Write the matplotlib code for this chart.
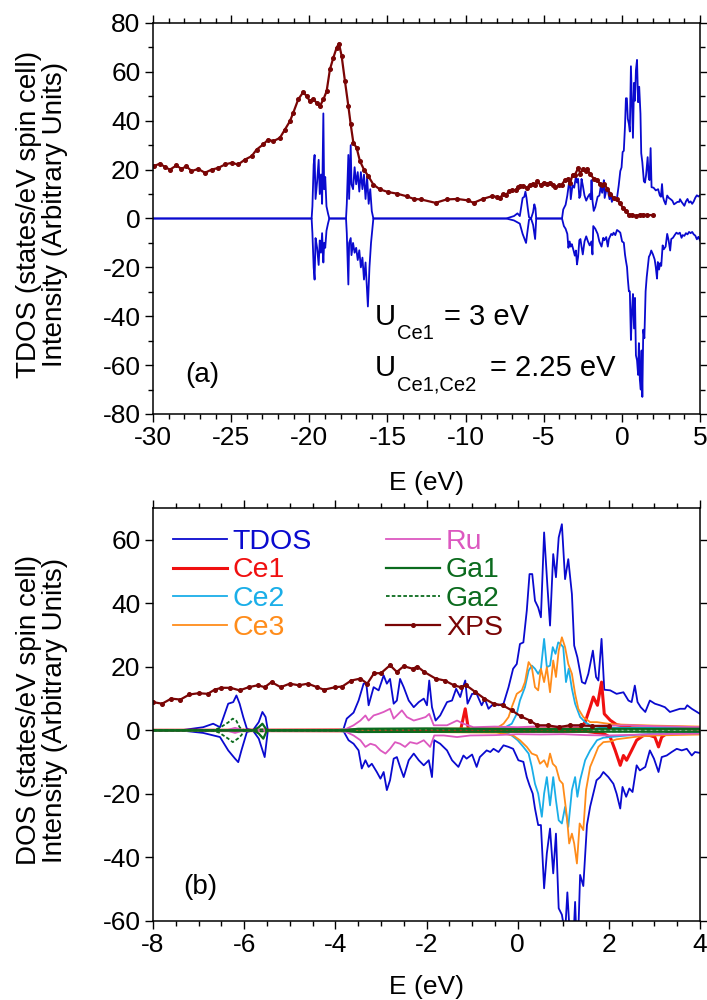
import matplotlib
matplotlib.use("Agg")
import matplotlib.pyplot as plt
from matplotlib.ticker import MultipleLocator

plt.rcParams['font.family'] = ['Liberation Sans', 'DejaVu Sans']
plt.rcParams['axes.unicode_minus'] = False

# ---------------- data ----------------
tdos_up_E = [-30.0, -19.85, -19.8, -19.72, -19.66, -19.6, -19.5, -19.4, -19.33, -19.25, -19.18, -19.1, -19.05,
             -18.98, -18.9, -18.8, -18.72, -17.65, -17.6, -17.5, -17.45, -17.35, -17.3, -17.2, -17.1, -17.0,
             -16.9, -16.8, -16.7, -16.6, -16.5, -16.4, -16.3, -16.2, -16.1, -16.0, -15.9,
             -7.4, -6.9, -6.68, -6.53, -6.35, -6.24, -6.17, -6.1, -6.02, -5.94, -5.81, -5.68, -5.6, -5.53, -5.48,
             -3.83, -3.75, -3.6, -3.49, -3.38, -3.32, -3.27, -3.16, -3.05, -2.94, -2.87, -2.8, -2.72, -2.65,
             -2.58, -2.5, -2.39, -2.28, -2.17, -2.06, -1.99, -1.94, -1.88, -1.8, -1.7, -1.55, -1.44, -1.35,
             -1.26, -1.2, -1.15, -1.1, -1.0, -0.9, -0.79, -0.72, -0.64, -0.53, -0.42, -0.31, -0.2, -0.1, -0.02,
             0.05, 0.125, 0.2, 0.26, 0.32, 0.38, 0.45, 0.51, 0.58, 0.65, 0.71, 0.78, 0.84, 0.9, 0.97, 1.04,
             1.11, 1.19, 1.24, 1.31, 1.41, 1.48, 1.55, 1.65, 1.72, 1.77, 1.84, 1.9, 2.03, 2.17, 2.32, 2.43,
             2.5, 2.57, 2.63, 2.7, 2.8, 2.9, 3.01, 3.12, 3.23, 3.34, 3.45, 3.56, 3.67, 3.72, 3.82, 3.93, 4.0,
             4.1, 4.2, 4.3, 4.4, 4.5, 4.6, 4.7, 4.8, 4.9, 5.0]
tdos_up = [0, 0, 5, 22, 26, 8, 15, 24, 10, 18, 6, 43, 12,
           17, 5, 2, 0, 0, 6, 26, 8, 30, 14, 12, 21, 14,
           19, 11, 19, 12, 18, 8, 17, 6, 12, 3, 0,
           0, 1.0, 2.1, 1.0, 8.4, 8.9, 11.0, 8.4, 4.2, 0.5, 0, 2.6, 5.8, 4.2, 0,
           0, 3.7, 5.6, 9.4, 14.7, 14.7, 7.9, 13.6, 12.6, 17.3, 14.7, 16.2, 8.4, 9.4,
           16.2, 13.6, 9.4, 7.3, 8.9, 10, 7.9, 15.7, 7.3, 3.1, 4.7, 8.9, 9.4, 13.1,
           10.5, 13.6, 15.7, 8.4, 11.5, 11.5, 7.9, 9.9, 6.8, 8.4, 7.9, 8.4, 13.6, 19.4, 20.9,
           27.2, 27.7, 37.7, 49.2, 49.2, 40.8, 38.7, 35.6, 62.3, 46, 33, 55.5, 48.2, 60.7, 64.9, 47.6,
           53.9, 42.9, 26.7, 23, 15.2, 14.7, 17.8, 25.1, 16.8, 15.7, 28.8, 12.8, 12.6, 11.5, 12, 9.4,
           8.9, 14.1, 8.9, 7.3, 5.8, 9.4, 8.4, 7.9, 7.3, 5.8, 6.3, 6.8, 6.8, 7.9, 6.8, 5.8, 5.2,
           7, 8, 6.5, 7, 6, 7, 8.5, 9.5, 9, 9.5]

tdos_dn_E = [-30.0, -19.85, -19.8, -19.72, -19.66, -19.6, -19.5, -19.4, -19.33, -19.25, -19.18, -19.1, -19.05,
             -18.98, -18.9, -18.8, -18.72, -17.65, -17.6, -17.5, -17.45, -17.35, -17.3, -17.2, -17.1, -17.0,
             -16.9, -16.8, -16.7, -16.6, -16.5, -16.4, -16.3, -16.25, -16.15, -16.05, -15.9,
             -7.4, -6.9, -6.53, -6.35, -6.2, -6.13, -6.06, -5.94, -5.81, -5.68, -5.55, -5.48,
             -3.83, -3.71, -3.6, -3.49, -3.42, -3.34, -3.27, -3.2, -3.09, -3.01, -2.94, -2.87, -2.8, -2.72,
             -2.65, -2.58, -2.5, -2.39, -2.28, -2.17, -2.06, -1.95, -1.88, -1.83, -1.7, -1.55, -1.44, -1.3,
             -1.19, -1.12, -1.0, -0.9, -0.83, -0.75, -0.68, -0.6, -0.53, -0.42, -0.31, -0.2, -0.1, 0.015,
             0.125, 0.2, 0.26, 0.33, 0.38, 0.45, 0.51, 0.58, 0.64, 0.71, 0.78, 0.84, 0.9, 0.97, 1.04, 1.09,
             1.15, 1.21, 1.26, 1.31, 1.37, 1.44, 1.52, 1.59, 1.66, 1.73, 1.81, 1.88, 1.99, 2.1, 2.17, 2.25,
             2.3, 2.38, 2.45, 2.52, 2.61, 2.68, 2.8, 2.9, 2.99, 3.09, 3.16, 3.27, 3.38, 3.49, 3.6, 3.71,
             3.82, 3.89, 4.0, 4.1, 4.2, 4.3, 4.4, 4.5, 4.6, 4.7, 4.8, 4.9, 5.0]
tdos_dn = [0, 0, -6, -20, -25, -8, -12, -19, -9, -14, -6, -18, -10,
           -12, -5, -2, 0, 0, -6, -27, -10, -8, -15, -10, -14, -12,
           -17, -13, -20, -16, -25, -18, -30, -36, -20, -10, 0,
           0, -0.8, -2.1, -6.3, -8.9, -10, -6.3, -0.5, 0, -2.6, -8.4, 0,
           0, -3.1, -4.2, -6.3, -12, -9.4, -11.5, -10.5, -13.1, -15.2, -13.1, -18.8, -15.7, -8.9,
           -8.4, -11.5, -14.7, -9.4, -7.3, -9.4, -11, -9.4, -14.7, -3.1, -4.2, -6.3, -9.4, -11.5,
           -7.9, -8.9, -7.6, -11.5, -8.4, -7.3, -6.3, -6.8, -5.8, -6.8, -4.7, -5.2, -5.8, -9.4,
           -9.9, -14.7, -17.3, -19.9, -24.6, -29.8, -29.8, -49.7, -38.7, -30.9, -45, -32.5, -56, -58, -64, -51,
           -66, -70, -54, -73, -45.5, -49, -29.8, -24, -19.9, -15.7, -14.7, -13.1, -14.7, -16.8, -19.9, -24.6,
           -17.8, -20.9, -18.3, -19.4, -11, -12.6, -11.5, -6.3, -8.9, -13.1, -8.4, -7.9, -6.8, -5.8, -6.3, -5.8,
           -7.9, -6.8, -7.1, -6, -6.5, -5.5, -6, -5.5, -6.5, -7, -8.5, -7.5, -9]

ce1_up_E = [-8.0, -1.25, -1.15, -1.08, 1.37, 1.48, 1.59, 1.66, 1.75, 1.84, 1.9, 2.03, 2.17, 2.5, 4.0]
ce1_up = [0, 0.2, 6.8, 0.3, 0.5, 2.6, 7.3, 10.5, 7.9, 15.2, 5.2, 3.2, 1.8, 0.8, 0.5]
ce1_dn_E = [-8.0, 1.5, 1.88, 2.03, 2.14, 2.25, 2.32, 2.39, 2.5, 2.61, 2.76, 2.9, 3.01, 3.09, 3.16, 3.27, 4.0]
ce1_dn = [0, -0.3, -1, -2.1, -6.3, -11, -7.9, -9.4, -6.3, -3.1, -1.6, -1.6, -2.1, -5.2, -2.1, -1, -0.5]

ce2_up_E = [-8.0, -4.0, -3.8, -2.0, -1.0, -0.31, -0.13, -0.02, 0.05, 0.16, 0.24, 0.31, 0.38, 0.45, 0.51, 0.58,
            0.64, 0.71, 0.77, 0.83, 0.89, 0.94, 1.0, 1.06, 1.12, 1.19, 1.26, 1.37, 1.48, 1.59, 1.81, 2.03, 3.0, 4.0]
ce2_up = [0, 0, 0.4, 0.5, 0.5, 0.7, 2.1, 5.2, 9.4, 13.6, 18.8, 20.4, 19.4, 17.8, 19.4, 28.8,
          19.9, 20.4, 26.2, 24.1, 27.7, 27.2, 26.2, 15.2, 19.4, 13.1, 8.4, 4.2, 2.6, 1.6, 1.0, 0.8, 0.8, 0.7]
ce2_dn_E = [-8.0, -4.0, -3.8, -1.0, -0.31, -0.13, 0.0, 0.125, 0.24, 0.31, 0.38, 0.45, 0.53, 0.58, 0.64, 0.71,
            0.78, 0.84, 0.9, 0.97, 1.04, 1.11, 1.19, 1.26, 1.31, 1.37, 1.48, 1.59, 1.74, 1.88, 2.03, 2.17, 2.5,
            3.0, 4.0]
ce2_dn = [0, 0, -0.4, -0.5, -0.5, -1.6, -3.1, -5.2, -7.3, -11.5, -16.8, -19.9, -27.2, -19.9, -14.7, -23.6,
          -14.7, -22, -28.3, -29.3, -24.1, -30.4, -18.8, -14.7, -20.9, -15.7, -9.4, -6.3, -3.1, -2.3, -2.1, -1.9,
          -1.5, -1.0, -0.8]

ce3_up_E = [-8.0, -4.0, -3.8, -0.46, -0.31, -0.2, -0.13, -0.02, 0.09, 0.16, 0.24, 0.31, 0.38, 0.45, 0.51, 0.58,
            0.64, 0.71, 0.78, 0.84, 0.9, 0.97, 1.04, 1.11, 1.19, 1.26, 1.33, 1.44, 1.59, 1.74, 1.88, 2.1, 3.0, 4.0]
ce3_up = [0, 0, 0.3, 0.7, 2.1, 4.2, 7.3, 11.5, 12.6, 15.2, 21.5, 19.9, 13.6, 12.6, 19.4, 15.2,
          19.9, 12.0, 22.0, 16.8, 25.1, 29.3, 26.2, 20.9, 17.8, 11.5, 6.8, 4.2, 2.6, 2.6, 2.3, 1.9, 1.5, 1.2]
ce3_dn_E = [-8.0, -4.0, -3.8, -0.46, -0.31, -0.1, 0.05, 0.2, 0.31, 0.42, 0.49, 0.58, 0.65, 0.71, 0.77, 0.84,
            0.92, 0.99, 1.08, 1.13, 1.19, 1.24, 1.3, 1.36, 1.44, 1.5, 1.59, 1.68, 1.77, 1.88, 2.03, 2.17, 2.6,
            3.0, 4.0]
ce3_dn = [0, 0, -0.3, -0.7, -1.0, -1.6, -3.1, -5.2, -7.3, -7.9, -10.5, -9.4, -11.5, -7.3, -10.5, -11.5,
          -15.7, -16.8, -27.2, -35.6, -32.5, -35.6, -41.9, -29.3, -31.4, -18.8, -11.5, -8.4, -5.2, -3.7, -3.5,
          -2.8, -2.0, -1.6, -1.3]

ru_up_E = [-8.0, -6.4, -6.2, -6.0, -3.83, -3.6, -3.45, -3.34, -3.27, -3.16, -3.05, -2.94, -2.87, -2.8, -2.72,
           -2.65, -2.54, -2.43, -2.28, -2.13, -2.02, -1.94, -1.84, -1.7, -1.55, -1.33, -1.19, -0.97, -0.5, 0.0,
           0.5, 1.0, 1.5, 2.0, 2.5, 3.0, 3.5, 4.0]
ru_up = [0, 0, 0.8, 0, 0, 1.6, 3.1, 4.7, 3.1, 4.7, 5.2, 5.8, 6.3, 6.8, 3.7,
         4.7, 6.3, 4.2, 3.1, 3.7, 4.2, 5.2, 1.6, 1.6, 1.6, 3.1, 2.1, 1.0, 1.2, 1.0,
         1.3, 1.2, 1.4, 1.5, 1.6, 1.3, 1.2, 1.0]
ru_dn_E = [-8.0, -6.4, -6.2, -6.0, -3.83, -3.6, -3.45, -3.34, -3.23, -3.12, -3.01, -2.9, -2.8, -2.69, -2.58,
           -2.47, -2.36, -2.21, -2.06, -1.92, -1.83, -1.62, -1.33, -1.04, -0.5, 0.0, 0.5, 1.0, 1.5, 2.0, 2.5,
           3.0, 4.0]
ru_dn = [0, 0, -0.8, 0, 0, -1.6, -3.1, -5.2, -4.2, -4.7, -6.3, -7.3, -5.8, -3.7, -4.2,
         -5.2, -3.7, -4.2, -3.1, -5.2, -1.6, -1.6, -2.1, -1.6, -1.5, -1.2, -1.3, -1.2, -1.5, -1.6, -1.4,
         -1.2, -1.0]

ga1_up_E = [-8.0, -5.8, -5.68, -5.6, -5.5, -3.83, -3.5, -2.0, 0.0, 2.0, 4.0]
ga1_up = [0, 0, 1.0, 2.1, 0, 0, 0.5, 0.6, 0.4, 0.5, 0.5]
ga1_dn_E = [-8.0, -5.8, -5.68, -5.58, -5.5, -3.83, -3.5, 0.0, 4.0]
ga1_dn = [0, 0, -1.0, -2.6, 0, 0, -0.5, -0.4, -0.4]

ga2_up_E = [-8.0, -6.7, -6.55, -6.35, -6.25, -6.17, -6.1, -6.0, -5.6, -5.5, -3.83, -3.5, 4.0]
ga2_up = [0, 0, 0.7, 2.5, 3.7, 3.0, 1.0, 0, 0.3, 0, 0, 0.3, 0.3]
ga2_dn_E = [-8.0, -6.7, -6.55, -6.35, -6.25, -6.13, -6.06, -6.0, -5.6, -5.5, -3.83, -3.5, 4.0]
ga2_dn = [0, 0, -0.7, -2.6, -3.7, -2.5, -1.5, 0, -0.3, 0, 0, -0.3, -0.3]

xps_E = [-29.94, -29.56, -29.24, -28.92, -28.5, -28.18, -27.86, -27.54, -27.1, -26.68, -26.25, -25.82, -25.4,
         -24.97, -24.55, -24.12, -23.69, -23.37, -22.95, -22.63, -22.31, -21.88, -21.56, -21.24, -21.03, -20.71,
         -20.39, -20.17, -19.96, -19.75, -19.53, -19.32, -19.1, -18.89, -18.68, -18.46, -18.25, -18.1, -17.93,
         -17.72, -17.5, -17.35, -17.18, -16.97, -16.76, -16.5, -16.22, -15.9, -15.48, -14.94, -14.41, -13.77,
         -13.31, -12.85, -11.92, -11.22, -10.53, -9.83, -9.49, -8.9, -8.33,
         -8.0, -7.8, -7.6, -7.4, -7.2, -7.0, -6.8, -6.65, -6.5, -6.3, -6.1, -5.9, -5.7, -5.55, -5.4, -5.2,
         -5.0, -4.8, -4.6, -4.4, -4.25, -4.0, -3.85, -3.65, -3.45, -3.3, -3.15, -3.0, -2.8, -2.65, -2.5, -2.3,
         -2.2, -2.05, -1.8, -1.6, -1.4, -1.25, -1.13, -0.93, -0.73, -0.53, -0.33, -0.13, 0.07, 0.27, 0.43,
         0.66, 0.9, 1.14, 1.38, 1.62, 2.0]
xps = [21.4, 22.5, 21.1, 20.0, 21.7, 20.3, 21.4, 19.4, 20.3, 18.7, 20.0, 20.7, 22.1,
       22.8, 22.1, 24.1, 25.5, 28.2, 30.3, 32.3, 31.6, 33.0, 36.4, 39.8, 43.2, 48.7,
       51.7, 50.1, 48.0, 49.0, 47.3, 46.0, 48.7, 52.1, 61.0, 65.8, 69.9, 71.6, 66.5,
       56.3, 46.0, 38.5, 31.0, 28.9, 23.5, 20.0, 17.3, 13.9, 11.9, 10.8, 10.2, 9.1,
       8.0, 7.8, 6.4, 7.8, 8.0, 7.4, 6.4, 8.0, 9.1,
       8.9, 8.4, 10.0, 9.7, 11.3, 11.7, 11.5, 12.8, 13.4, 13.4, 12.6, 13.6, 14.2, 13.6, 15.2, 13.6,
       14.7, 14.2, 14.7, 13.6, 12.8, 13.6, 13.8, 15.7, 16.3, 14.7, 18.0, 18.0, 20.5, 18.4, 20.2, 19.4,
       20.1, 18.4, 16.3, 15.7, 14.2, 13.6, 14.2, 12.1, 10.0, 8.4, 7.9, 6.3, 4.4, 3.1, 1.6,
       1.6, 1.0, 1.6, 1.6, 1.4, 1.4]

# ---------------- styling ----------------
C_TDOS = '#0A0ACF'
C_CE1 = '#F01010'
C_CE2 = '#1AAEE8'
C_CE3 = '#FF8C1A'
C_RU = '#DC58C0'
C_GA = '#0B6B1E'
C_XPS = '#7A0505'

fig = plt.figure(figsize=(7.07, 10.0), dpi=100)
ax1 = fig.add_axes([153 / 707, 1 - 414 / 1000, 547 / 707, 391 / 1000])
ax2 = fig.add_axes([153 / 707, 1 - 921 / 1000, 547 / 707, 413 / 1000])

TICK_FS = 19
LAB_FS = 19
YLAB_FS = 20

def style_axes(ax):
    for s in ax.spines.values():
        s.set_linewidth(1.1)
    ax.tick_params(which='both', direction='out', top=True, right=True, labelsize=TICK_FS, width=1.0, pad=3)
    ax.tick_params(which='major', length=6)
    ax.tick_params(which='minor', length=3.5)

# ---- panel (a) ----
ax1.plot(tdos_up_E, tdos_up, color=C_TDOS, lw=1.3)
ax1.plot(tdos_dn_E, tdos_dn, color=C_TDOS, lw=1.3)
ax1.plot(xps_E, xps, color=C_XPS, lw=1.6, marker='o', ms=2.6, mec=C_XPS, mfc=C_XPS)
ax1.set_xlim(-30, 5)
ax1.set_ylim(-80, 80)
ax1.xaxis.set_major_locator(MultipleLocator(5))
ax1.xaxis.set_minor_locator(MultipleLocator(1))
ax1.yaxis.set_major_locator(MultipleLocator(20))
ax1.yaxis.set_minor_locator(MultipleLocator(10))
style_axes(ax1)
ax1.set_xlabel('E (eV)', fontsize=LAB_FS)
ax1.xaxis.set_label_coords(0.5, -69 / 391)
ax1.xaxis.label.set_va('center')
ax1.set_ylabel('TDOS (states/eV spin cell)\nIntensity (Arbitrary Units)', fontsize=YLAB_FS, linespacing=1.0)
ax1.yaxis.label.set(ha='center', va='center', rotation_mode='default')
ax1.yaxis.set_label_coords(-111 / 547, 0.51)

# U annotations: main text, subscript, rest
ax1.text(-15.80, -43.4, 'U', fontsize=21, va='baseline', ha='left')
ax1.text(-14.39, -49.5, 'Ce1', fontsize=14.5, va='baseline', ha='left')
ax1.text(-11.38, -43.4, '= 3 eV', fontsize=21, va='baseline', ha='left')
ax1.text(-15.80, -64.5, 'U', fontsize=21, va='baseline', ha='left')
ax1.text(-14.39, -70.3, 'Ce1,Ce2', fontsize=14.5, va='baseline', ha='left')
ax1.text(-8.44, -64.5, '= 2.25 eV', fontsize=21, va='baseline', ha='left')
ax1.text(-27.95, -67, '(a)', fontsize=20, va='baseline', ha='left')

# ---- panel (b) ----
l_tdos, = ax2.plot(tdos_up_E, tdos_up, color=C_TDOS, lw=1.3, label='TDOS')
ax2.plot(tdos_dn_E, tdos_dn, color=C_TDOS, lw=1.3)
l_ce1, = ax2.plot(ce1_up_E, ce1_up, color=C_CE1, lw=2.2, label='Ce1')
ax2.plot(ce1_dn_E, ce1_dn, color=C_CE1, lw=2.2)
l_ce2, = ax2.plot(ce2_up_E, ce2_up, color=C_CE2, lw=1.3, label='Ce2')
ax2.plot(ce2_dn_E, ce2_dn, color=C_CE2, lw=1.3)
l_ce3, = ax2.plot(ce3_up_E, ce3_up, color=C_CE3, lw=1.3, label='Ce3')
ax2.plot(ce3_dn_E, ce3_dn, color=C_CE3, lw=1.3)
l_ru, = ax2.plot(ru_up_E, ru_up, color=C_RU, lw=1.3, label='Ru')
ax2.plot(ru_dn_E, ru_dn, color=C_RU, lw=1.3)
l_ga1, = ax2.plot(ga1_up_E, ga1_up, color=C_GA, lw=1.6, label='Ga1')
ax2.plot(ga1_dn_E, ga1_dn, color=C_GA, lw=1.6)
l_ga2, = ax2.plot(ga2_up_E, ga2_up, color=C_GA, lw=1.3, ls=(0, (2, 1.2)), label='Ga2')
ax2.plot(ga2_dn_E, ga2_dn, color=C_GA, lw=1.3, ls=(0, (2, 1.2)))
l_xps, = ax2.plot(xps_E, xps, color=C_XPS, lw=1.6, marker='o', ms=2.6, mec=C_XPS, mfc=C_XPS, label='XPS')
ax2.set_xlim(-8, 4)
ax2.set_ylim(-60, 70)
ax2.xaxis.set_major_locator(MultipleLocator(2))
ax2.xaxis.set_minor_locator(MultipleLocator(0.5))
ax2.yaxis.set_major_locator(MultipleLocator(20))
style_axes(ax2)
ax2.set_xlabel('E (eV)', fontsize=LAB_FS)
ax2.xaxis.set_label_coords(0.5, -66 / 413)
ax2.xaxis.label.set_va('center')
ax2.set_ylabel('DOS (states/eV spin cell)\nIntensity (Arbitrary Units)', fontsize=YLAB_FS, linespacing=1.0)
ax2.yaxis.label.set(ha='center', va='center', rotation_mode='default')
ax2.yaxis.set_label_coords(-111 / 547, 0.51)
ax2.text(-7.34, -51.5, '(b)', fontsize=20, va='baseline', ha='left')

handles = [l_tdos, l_ce1, l_ce2, l_ce3, l_ru, l_ga1, l_ga2, l_xps]
leg = ax2.legend(handles=handles, ncol=2, frameon=False, loc='upper left',
                 bbox_to_anchor=(20 / 547, 0.950), borderpad=0, borderaxespad=0,
                 fontsize=20.5, handlelength=1.9, handletextpad=0.2, columnspacing=2.6,
                 labelspacing=0.1, labelcolor='linecolor', markerscale=1.0)

fig.savefig('out.png', dpi=100)
